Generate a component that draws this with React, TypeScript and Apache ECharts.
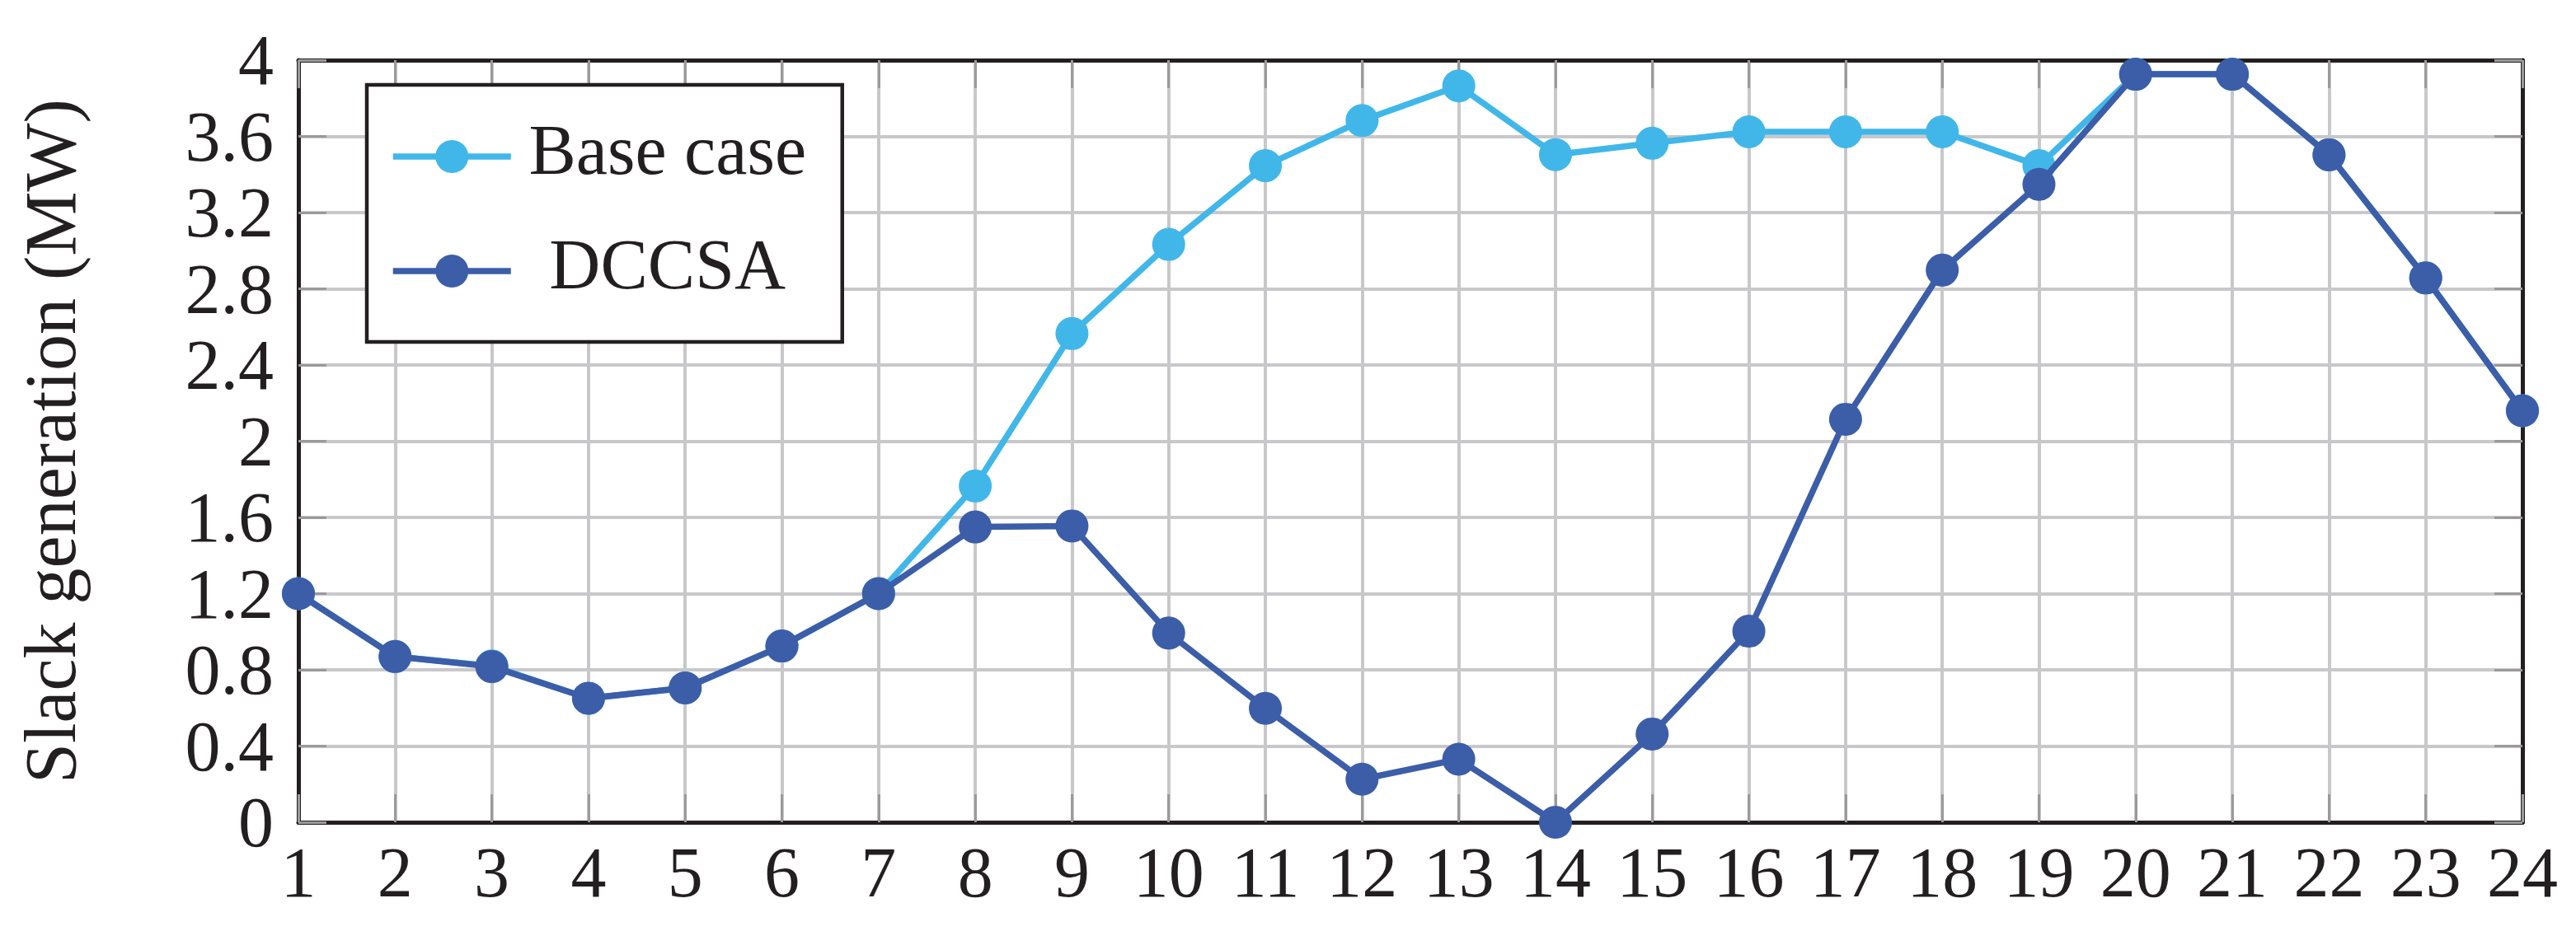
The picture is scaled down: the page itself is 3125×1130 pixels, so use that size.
import React, { useEffect, useRef } from "react";
import * as echarts from "echarts";

const hours = ["1", "2", "3", "4", "5", "6", "7", "8", "9", "10", "11", "12", "13", "14", "15", "16", "17", "18", "19", "20", "21", "22", "23", "24"];
const seriesNames = ["Base case", "DCCSA"];
const baseCase = [1.2, 0.87, 0.82, 0.65, 0.705, 0.925, 1.2, 1.765, 2.565, 3.033, 3.446, 3.683, 3.865, 3.504, 3.564, 3.624, 3.624, 3.624, 3.446, 3.926, 3.926, 3.503, 2.857, 2.16];
const dccsa = [1.2, 0.87, 0.817, 0.651, 0.705, 0.925, 1.2, 1.55, 1.555, 0.993, 0.598, 0.226, 0.331, 0.0, 0.463, 1.003, 2.115, 2.898, 3.348, 3.926, 3.926, 3.503, 2.857, 2.16];
const yMin = 0;
const yMax = 4;
const yStep = 0.4;
const colors = ["#41B7E9", "#3C5DA8"];

export default function App() {
  const ref = useRef<HTMLDivElement>(null);
  useEffect(() => {
    const chart = echarts.init(ref.current as HTMLDivElement, null, { renderer: "svg" });
    const font = "'Liberation Serif', 'Times New Roman', serif";
    const textColor = "#231f20";
    const gridColor = "#c8c8ca";
    const tick = { show: true, inside: true, length: 34, interval: 0, lineStyle: { color: "#9a9a9c", width: 3 } };
    const axisLine = { show: true, onZero: false, lineStyle: { color: textColor, width: 5 } };
    const split = { show: true, interval: 0, lineStyle: { color: gridColor, width: 4 } };
    const labelStyle = { fontFamily: font, fontSize: 86, color: textColor };

    const option = {
      animation: false,
      backgroundColor: "#ffffff",
      grid: { left: 362, right: 65, top: 73, bottom: 132, containLabel: false },
      legend: {
        data: seriesNames,
        orient: "vertical",
        left: 445,
        top: 103,
        padding: [36, 27, 35, 28],
        itemWidth: 143,
        itemHeight: 50,
        itemGap: 37,
        backgroundColor: "#ffffff",
        borderColor: textColor,
        borderWidth: 4.5,
        borderRadius: 0,
        selectedMode: false,
        lineStyle: { width: 7.5 },
        textStyle: {
          ...labelStyle,
          rich: {
            n: { ...labelStyle, width: 370, align: "center", lineHeight: 50, padding: [0, 0, 16, 0] },
          },
        },
        formatter: (name: string) => `{n|${name}}`,
      },
      xAxis: [
        {
          type: "category",
          data: hours,
          boundaryGap: false,
          position: "bottom",
          axisLine,
          axisTick: tick,
          splitLine: split,
          axisLabel: { ...labelStyle, interval: 0, margin: 18 },
        },
        {
          type: "category",
          data: hours,
          boundaryGap: false,
          position: "top",
          axisLine,
          axisTick: tick,
          splitLine: { show: false },
          axisLabel: { show: false },
        },
      ],
      yAxis: [
        {
          type: "value",
          min: yMin,
          max: yMax,
          interval: yStep,
          position: "left",
          name: "Slack generation (MW)",
          nameLocation: "middle",
          nameGap: 301,
          nameTextStyle: { ...labelStyle, fontSize: 88, verticalAlign: "middle" },
          axisLine,
          axisTick: tick,
          splitLine: split,
          axisLabel: { ...labelStyle, margin: 30 },
        },
        {
          type: "value",
          min: yMin,
          max: yMax,
          interval: yStep,
          position: "right",
          axisLine,
          axisTick: tick,
          splitLine: { show: false },
          axisLabel: { show: false },
        },
      ],
      series: [
        {
          name: seriesNames[0],
          type: "line",
          data: baseCase,
          xAxisIndex: 0,
          yAxisIndex: 0,
          symbol: "circle",
          symbolSize: 40,
          color: colors[0],
          lineStyle: { color: colors[0], width: 7.5 },
          itemStyle: { color: colors[0] },
          z: 3,
        },
        {
          name: seriesNames[1],
          type: "line",
          data: dccsa,
          xAxisIndex: 0,
          yAxisIndex: 0,
          symbol: "circle",
          symbolSize: 40,
          color: colors[1],
          lineStyle: { color: colors[1], width: 7.5 },
          itemStyle: { color: colors[1] },
          z: 4,
        },
      ],
    };
    chart.setOption(option as any);
    return () => chart.dispose();
  }, []);
  return (
    <div
      ref={ref}
      style={{ position: "fixed", left: 0, top: 0, width: 3125, height: 1130, background: "#ffffff" }}
    />
  );
}
